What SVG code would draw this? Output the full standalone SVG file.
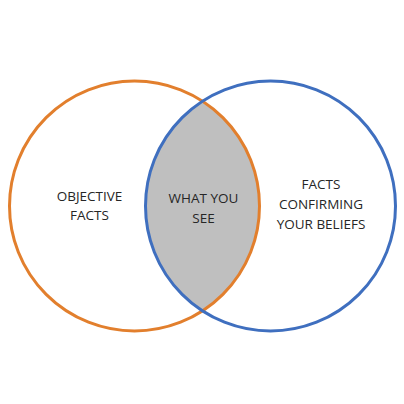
<svg xmlns="http://www.w3.org/2000/svg" width="404" height="404" viewBox="0 0 404 404">
<style>
.lbl{font-family:"Open Sans","Noto Sans","Liberation Sans",sans-serif;font-size:13.5px;fill:#262626;text-anchor:middle}
.c{fill:none;stroke-width:3}
</style>
<rect width="404" height="404" fill="#ffffff"/>
<g id="overlap">
<path d="M202.5,101 A125,125 0 0,1 202.5,311 A125,125 0 0,1 202.5,101 Z" fill="#bfbfbf"/>
</g>
<g id="objective-facts">
<circle class="c" cx="134.5" cy="206" r="125" stroke="#e27f2d"/>
<text class="lbl" x="89.5" y="201">OBJECTIVE</text>
<text class="lbl" x="89.5" y="220">FACTS</text>
</g>
<g id="confirming-facts">
<circle class="c" cx="270.5" cy="206" r="125" stroke="#3f6fbf"/>
<text class="lbl" x="321" y="189">FACTS</text>
<text class="lbl" x="321" y="209">CONFIRMING</text>
<text class="lbl" x="321" y="229">YOUR BELIEFS</text>
</g>
<g id="what-you-see">
<text class="lbl" x="203.5" y="203">WHAT YOU</text>
<text class="lbl" x="203.5" y="222.5">SEE</text>
</g>
<g id="connectors"/>
</svg>
